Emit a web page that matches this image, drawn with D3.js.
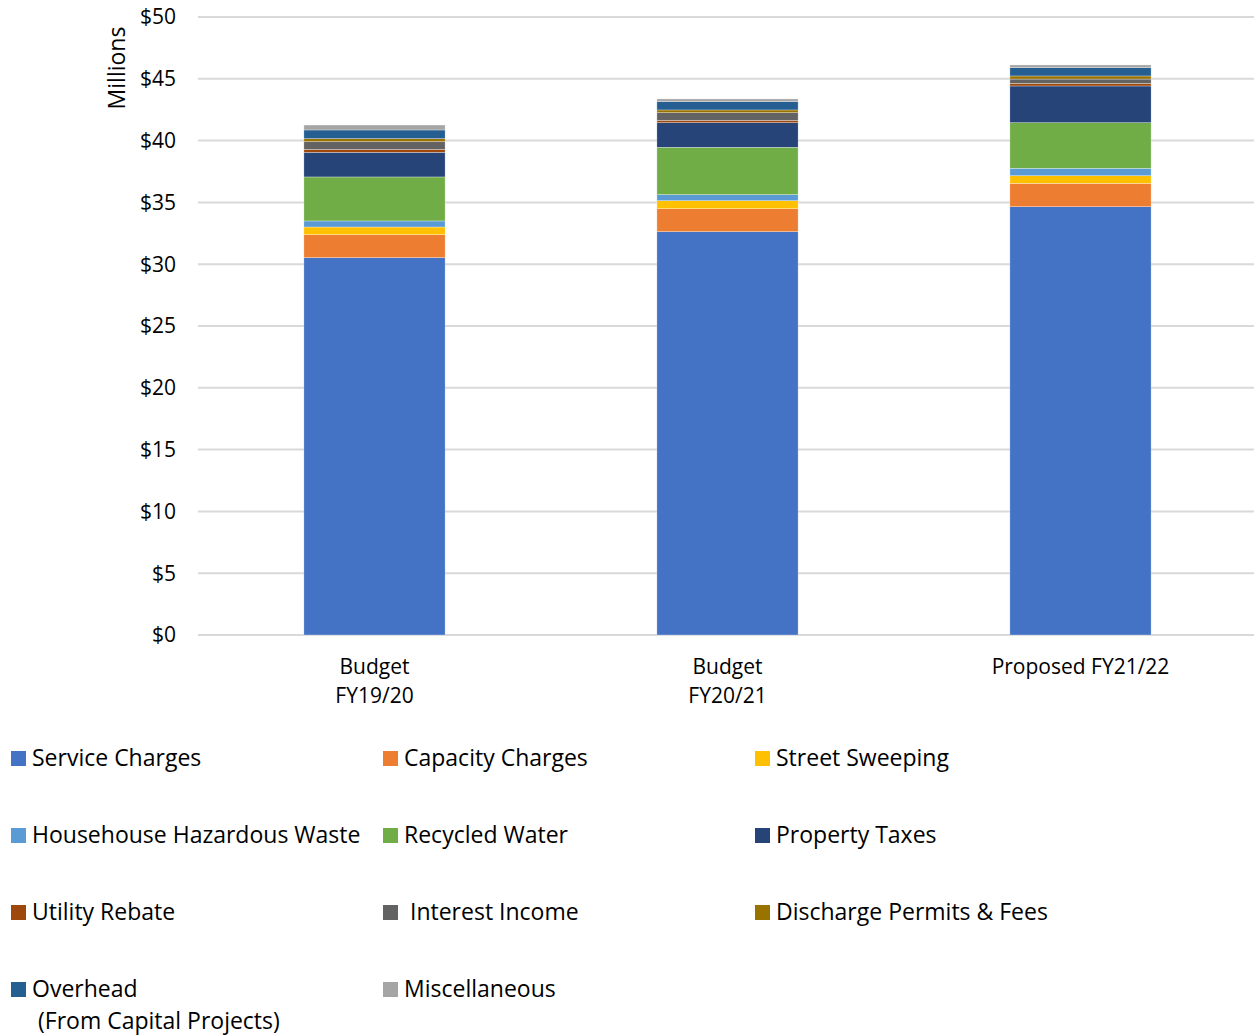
<!DOCTYPE html>
<html><head><meta charset="utf-8">
<script src="https://cdn.jsdelivr.net/npm/d3@7"></script>
<style>body{margin:0;background:#fff}svg{display:block}text{font-family:"Open Sans",Lato,sans-serif;fill:#000}</style>
</head><body>
<script>
const categories = [["Budget","FY19/20"],["Budget","FY20/21"],["Proposed FY21/22"]];
const seriesNames = ["Service Charges","Capacity Charges","Street Sweeping","Househouse Hazardous Waste","Recycled Water","Property Taxes","Utility Rebate","Interest Income","Discharge Permits & Fees","Overhead (From Capital Projects)","Miscellaneous"];
const serviceCharges = [30.53, 32.63, 34.65];
const capacityCharges = [1.86, 1.86, 1.89];
const streetSweeping = [0.62, 0.65, 0.62];
const hazardousWaste = [0.49, 0.49, 0.60];
const recycledWater = [3.56, 3.83, 3.69];
const propertyTaxes = [1.99, 1.99, 2.97];
const utilityRebate = [0.24, 0.19, 0.21];
const interestIncome = [0.63, 0.62, 0.35];
const dischargePermits = [0.24, 0.22, 0.25];
const overhead = [0.70, 0.67, 0.67];
const miscellaneous = [0.40, 0.22, 0.22];
const yTicks = [0,5,10,15,20,25,30,35,40,45,50];
const colors = ["#4472C4","#ED7D31","#FFC000","#5B9BD5","#70AD47","#264478","#9E480E","#636363","#997300","#255E91","#A5A5A5"];

const allSeries = [serviceCharges,capacityCharges,streetSweeping,hazardousWaste,recycledWater,propertyTaxes,utilityRebate,interestIncome,dischargePermits,overhead,miscellaneous];
const rows = categories.map((c,i)=>{const r={idx:i}; allSeries.forEach((s,k)=>r["s"+k]=s[i]); return r;});
const keys = allSeries.map((s,k)=>"s"+k);

const W=1254,H=1036;
const svg=d3.select("body").append("svg").attr("width",W).attr("height",H);
const x=d3.scaleBand().domain(d3.range(categories.length)).range([198,1257]).paddingInner(0.6).paddingOuter(0.3);
const y=d3.scaleLinear().domain([0,50]).range([635,17]);

svg.append("g").selectAll("line").data(yTicks).join("line")
 .attr("x1",198).attr("x2",1254).attr("y1",d=>y(d)).attr("y2",d=>y(d))
 .attr("stroke","#d9d9d9").attr("stroke-width",2);
svg.append("g").selectAll("text").data(yTicks).join("text")
 .attr("x",176).attr("y",d=>y(d)).attr("dy","0.35em").attr("text-anchor","end")
 .attr("font-size",21).text(d=>"$"+d);
svg.append("text").attr("transform","translate(125,68) rotate(-90)").attr("text-anchor","middle")
 .attr("font-size",23).text("Millions");

const stack=d3.stack().keys(keys)(rows);
svg.append("g").selectAll("g").data(stack).join("g").attr("fill",(d,i)=>colors[i])
 .selectAll("rect").data(d=>d).join("rect")
 .attr("x",d=>x(d.data.idx)).attr("width",x.bandwidth())
 .attr("y",d=>y(d[1])).attr("height",d=>y(d[0])-y(d[1]))
 .attr("stroke","#fff").attr("stroke-width",0.5).attr("stroke-opacity",0.6);

svg.append("g").selectAll("text").data(categories).join("text")
 .attr("x",(d,i)=>x(i)+x.bandwidth()/2).attr("y",674).attr("text-anchor","middle").attr("font-size",21)
 .each(function(d){d3.select(this).selectAll("tspan").data(d).join("tspan")
   .attr("x",d3.select(this).attr("x")).attr("dy",(t,j)=>j?"1.38em":0).text(t=>t);});

const legCols=[11,383,755], legRows=[758,835,912,989];
const leg=svg.append("g").selectAll("g").data(seriesNames).join("g")
 .attr("transform",(d,i)=>`translate(${legCols[i%3]},${legRows[Math.floor(i/3)]})`);
leg.append("rect").attr("x",0).attr("y",-7).attr("width",15).attr("height",15).attr("fill",(d,i)=>colors[i]);
leg.append("text").attr("x",21).attr("dy","0.35em").attr("font-size",23)
 .each(function(d,i){
   const el=d3.select(this);
   if(i===9){el.append("tspan").text("Overhead");el.append("tspan").attr("x",27).attr("dy","1.38em").text("(From Capital Projects)");}
   else el.text(i===7?"\u00a0Interest Income":d);
 });
</script>
</body></html>
